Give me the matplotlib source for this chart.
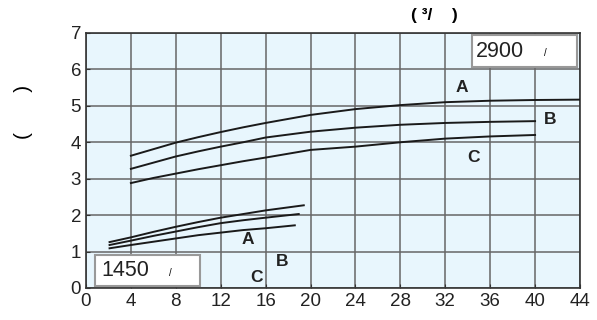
import numpy as np
import matplotlib.pyplot as plt
from matplotlib.patches import Rectangle

plt.rcParams['font.family'] = ['Liberation Sans', 'DejaVu Sans']

# 2900 rpm curves
hi_A_x = [4, 6, 8, 10, 12, 14, 16, 20, 24, 28, 32, 36, 40, 44]
hi_A_y = [3.63, 3.81, 3.99, 4.14, 4.28, 4.41, 4.53, 4.75, 4.91, 5.02, 5.10, 5.14, 5.16, 5.17]
hi_B_x = [4, 6, 8, 10, 12, 14, 16, 20, 24, 28, 32, 36, 40]
hi_B_y = [3.27, 3.44, 3.61, 3.75, 3.88, 4.00, 4.13, 4.29, 4.40, 4.48, 4.53, 4.56, 4.58]
hi_C_x = [4, 6, 8, 10, 12, 14, 16, 20, 24, 28, 32, 36, 40]
hi_C_y = [2.88, 3.02, 3.14, 3.26, 3.37, 3.48, 3.58, 3.79, 3.88, 4.00, 4.10, 4.16, 4.20]

# 1450 rpm curves
lo_A_x = [2.1, 4, 6, 8, 10, 12, 14, 16, 19.4]
lo_A_y = [1.26, 1.39, 1.54, 1.68, 1.81, 1.93, 2.03, 2.13, 2.27]
lo_B_x = [2.1, 4, 6, 8, 10, 12, 14, 16, 18.95]
lo_B_y = [1.18, 1.30, 1.43, 1.55, 1.67, 1.78, 1.86, 1.93, 2.03]
lo_C_x = [2.1, 4, 6, 8, 10, 12, 14, 16, 18.6]
lo_C_y = [1.09, 1.18, 1.27, 1.36, 1.45, 1.52, 1.59, 1.64, 1.72]

x_ticks = [0, 4, 8, 12, 16, 20, 24, 28, 32, 36, 40, 44]
y_ticks = [0, 1, 2, 3, 4, 5, 6, 7]

fig = plt.figure(figsize=(5.97, 3.2), dpi=100)
ax = fig.add_axes([0.144, 0.1, 0.8275, 0.797])
ax.set_facecolor('#e8f6fd')

for xs, ys in [(hi_A_x, hi_A_y), (hi_B_x, hi_B_y), (hi_C_x, hi_C_y),
               (lo_A_x, lo_A_y), (lo_B_x, lo_B_y), (lo_C_x, lo_C_y)]:
    ax.plot(xs, ys, color='#1a1a1a', lw=1.4, zorder=3)

ax.set_xlim(0, 44)
ax.set_ylim(0, 7)
ax.set_xticks(x_ticks)
ax.set_yticks(y_ticks)
ax.grid(True, color='#666666', lw=1.1)
ax.set_axisbelow(True)
ax.tick_params(direction='in', labelsize=13.5, length=3, color='#333333',
               labelcolor='#222222')
for s in ax.spines.values():
    s.set_color('#333333')
    s.set_linewidth(1.2)

lab = dict(fontsize=12.5, fontweight='bold', color='#222222', ha='center', va='center')
ax.text(33.5, 5.49, 'A', **lab)
ax.text(41.3, 4.62, 'B', **lab)
ax.text(34.5, 3.57, 'C', **lab)
ax.text(14.4, 1.32, 'A', **lab)
ax.text(17.5, 0.74, 'B', **lab)
ax.text(15.2, 0.30, 'C', **lab)

# speed boxes
ax.add_patch(Rectangle((34.36, 6.07), 9.4, 0.87, fc='white', ec='#999999', lw=1.5, zorder=5))
ax.text(34.75, 6.49, '2900', fontsize=15.5, va='center', ha='left', color='#222222', zorder=6)
ax.text(40.9, 6.44, '/', fontsize=7, va='center', ha='center', zorder=6)
ax.add_patch(Rectangle((0.8, 0.06), 9.4, 0.85, fc='white', ec='#999999', lw=1.5, zorder=5))
ax.text(1.35, 0.47, '1450', fontsize=15.5, va='center', ha='left', color='#222222', zorder=6)
ax.text(7.55, 0.42, '/', fontsize=7, va='center', ha='center', zorder=6)

fig.text(0.727, 0.953, '( \u00b3/    )', fontsize=12.5, fontweight='bold', ha='center', va='center')
fig.text(0.04, 0.65, '(       )', fontsize=15, rotation=90, ha='center', va='center')

fig.savefig('out.png', dpi=100)
